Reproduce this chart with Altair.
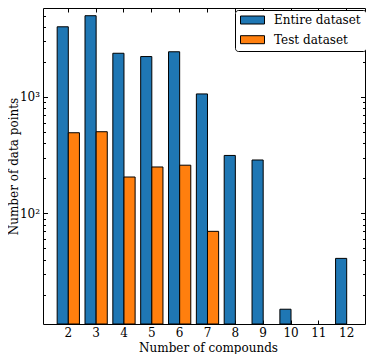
import altair as alt
import pandas as pd

categories = ["2", "3", "4", "5", "6", "7", "8", "9", "10", "11", "12"]
entire_n = ["2", "3", "4", "5", "6", "7", "8", "9", "10", "12"]
entire_values = [4000, 4980, 2370, 2220, 2440, 1060, 314, 287, 15, 41]
test_n = ["2", "3", "4", "5", "6", "7"]
test_values = [492, 502, 205, 250, 259, 70]
series = ["Entire dataset", "Test dataset"]
colors = ["#1f77b4", "#ff7f0e"]
major_ticks = [100, 1000]
minor_ticks = [20, 30, 40, 50, 60, 70, 80, 90,
               200, 300, 400, 500, 600, 700, 800, 900,
               2000, 3000, 4000, 5000]
y_domain = [11.2, 5800]

rows = [{"n": n, "series": series[0], "value": v} for n, v in zip(entire_n, entire_values)]
rows += [{"n": n, "series": series[1], "value": v} for n, v in zip(test_n, test_values)]
df = pd.DataFrame(rows)

FONT = "DejaVu Serif"
W, H = 322, 316
x_scale = alt.Scale(domain=categories, paddingInner=0, paddingOuter=0.283, align=0.722)
y_scale = alt.Scale(type="log", domain=y_domain, clamp=True)


def yaxis(orient, values, size, labels=False, title=None):
    kw = dict(orient=orient, values=values, tickSize=alt.ExprRef(expr=str(-size)),
              tickColor="black", tickWidth=1, domain=False, grid=False,
              labels=labels)
    if labels:
        kw.update(labelExpr="datum.value == 100 ? '10²' : '10³'", labelPadding=8,
                  labelFont=FONT, labelFontSize=12, labelColor="black")
    if title:
        kw.update(title=title, titleFont=FONT, titleFontSize=12, titleFontWeight="normal",
                  titleColor="black", titleX=-25.5, titleY=158, titleAngle=270,
                  titleBaseline="alphabetic", titleAlign="center")
    else:
        kw.update(title=None)
    return alt.Axis(**kw)


sym_path = "M-1,-0.3333H1V0.3333H-1Z"

bars = alt.Chart(df).mark_bar(stroke="black", strokeWidth=1).encode(
    x=alt.X("n:O", scale=x_scale, sort=categories,
            axis=alt.Axis(orient="bottom", title="Number of compounds", labelAngle=0,
                          tickSize=alt.ExprRef(expr="-4"), tickColor="black", domain=False,
                          labelPadding=7, labelFont=FONT, labelFontSize=12, labelColor="black",
                          titleFont=FONT, titleFontSize=12, titleFontWeight="normal",
                          titleColor="black", titleX=165, titleY=27.5,
                          titleBaseline="alphabetic", titleAlign="center")),
    xOffset=alt.XOffset("series:N", scale=alt.Scale(domain=series, paddingInner=0, paddingOuter=0.25)),
    y=alt.Y("value:Q", scale=y_scale, axis=yaxis("left", major_ticks, 4.5, labels=True,
                                                 title="Number of data points")),
    y2=alt.Y2(datum=1),
    color=alt.Color("series:N", scale=alt.Scale(domain=series, range=colors),
                    legend=alt.Legend(title=None, orient="none", legendX=192, legendY=2,
                                      padding=5, strokeColor="black", fillColor="white",
                                      cornerRadius=3, symbolType=sym_path, symbolSize=576,
                                      symbolStrokeColor="black", symbolStrokeWidth=1,
                                      symbolOpacity=1, clipHeight=10, rowPadding=7.7,
                                      labelOffset=9, labelFont=FONT, labelFontSize=12,
                                      labelColor="black")),
)

ghost = alt.Chart(df).mark_point(opacity=0)

layer_minor_left = ghost.encode(
    x=alt.X("n:O", scale=x_scale, sort=categories,
            axis=alt.Axis(orient="top", labels=False, title=None, domain=False,
                          tickSize=alt.ExprRef(expr="-4"), tickColor="black")),
    y=alt.Y("value:Q", scale=y_scale, axis=yaxis("left", minor_ticks, 2.5)),
)
layer_major_right = ghost.encode(
    x=alt.X("n:O", scale=x_scale, sort=categories, axis=None),
    y=alt.Y("value:Q", scale=y_scale, axis=yaxis("right", major_ticks, 4.5)),
)
layer_minor_right = ghost.encode(
    x=alt.X("n:O", scale=x_scale, sort=categories, axis=None),
    y=alt.Y("value:Q", scale=y_scale, axis=yaxis("right", minor_ticks, 2.5)),
)

chart = alt.layer(bars, layer_minor_left, layer_major_right, layer_minor_right).resolve_axis(
    x="independent", y="independent"
).properties(
    width=W, height=H,
    autosize=alt.AutoSizeParams(type="none"),
    padding={"left": 35, "top": 0, "right": 1, "bottom": 30},
).configure_view(stroke="black", strokeWidth=1)

chart.save("out.html", embed_options={"renderer": "svg", "actions": False})
